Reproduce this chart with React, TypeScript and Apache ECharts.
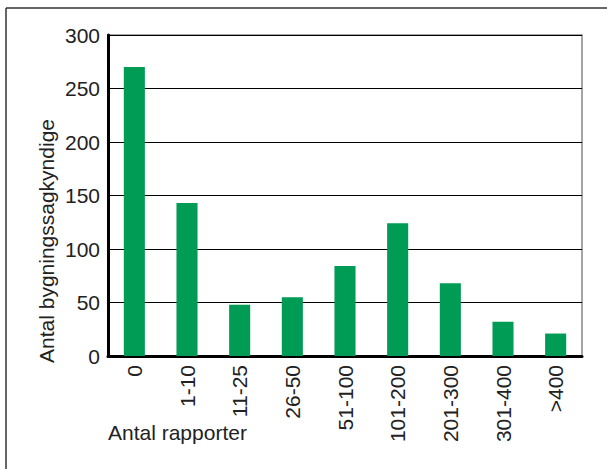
import React, { useEffect, useRef } from "react";
import * as echarts from "echarts";

const categories = ["0", "1-10", "11-25", "26-50", "51-100", "101-200", "201-300", "301-400", ">400"];
const counts = [270, 143, 48, 55, 84, 124, 68, 32, 21];
const yTicks = [0, 50, 100, 150, 200, 250, 300];

const FONT = "'Liberation Sans', Arial, sans-serif";
const TEXT = "#222";

export default function App() {
  const ref = useRef<HTMLDivElement>(null);

  useEffect(() => {
    document.body.style.margin = "0";
    const chart = echarts.init(ref.current!, null, { renderer: "svg" });
    chart.setOption({
      animation: false,
      backgroundColor: "#ffffff",
      textStyle: { fontFamily: FONT },
      grid: {
        left: 108,
        right: 25,
        top: 35,
        bottom: 113,
        show: true,
        borderColor: "#888888",
        borderWidth: 1.5,
      },
      xAxis: {
        type: "category",
        data: categories,
        axisLine: { show: true, lineStyle: { color: "#000", width: 3 } },
        axisTick: { show: false },
        axisLabel: {
          rotate: 90,
          margin: 9,
          color: TEXT,
          fontSize: 21,
          fontFamily: FONT,
        },
      },
      yAxis: {
        type: "value",
        min: yTicks[0],
        max: yTicks[yTicks.length - 1],
        interval: 50,
        axisLine: { show: true, lineStyle: { color: "#000", width: 3 } },
        axisTick: { show: false },
        axisLabel: { color: TEXT, fontSize: 21, margin: 8, fontFamily: FONT },
        splitLine: { show: true, lineStyle: { color: "#000", width: 1 } },
      },
      series: [
        {
          type: "bar",
          data: counts,
          barWidth: "40%",
          itemStyle: { color: "#009b55" },
        },
      ],
      graphic: [
        {
          type: "line",
          shape: { x1: 6, y1: 8, x2: 607, y2: 8 },
          style: { stroke: "#333", lineWidth: 1.5 },
        },
        {
          type: "line",
          shape: { x1: 6, y1: 8, x2: 6, y2: 469 },
          style: { stroke: "#333", lineWidth: 1.5 },
        },
        {
          type: "text",
          x: 46,
          y: 241,
          rotation: Math.PI / 2,
          style: {
            text: "Antal bygningssagkyndige",
            fill: TEXT,
            fontSize: 21,
            fontFamily: FONT,
            align: "center",
            verticalAlign: "middle",
          },
        },
        {
          type: "text",
          left: 108,
          top: 422,
          style: { text: "Antal rapporter", fill: TEXT, fontSize: 21, fontFamily: FONT },
        },
      ],
    });
    return () => chart.dispose();
  }, []);

  return <div ref={ref} style={{ width: 607, height: 469 }} />;
}
